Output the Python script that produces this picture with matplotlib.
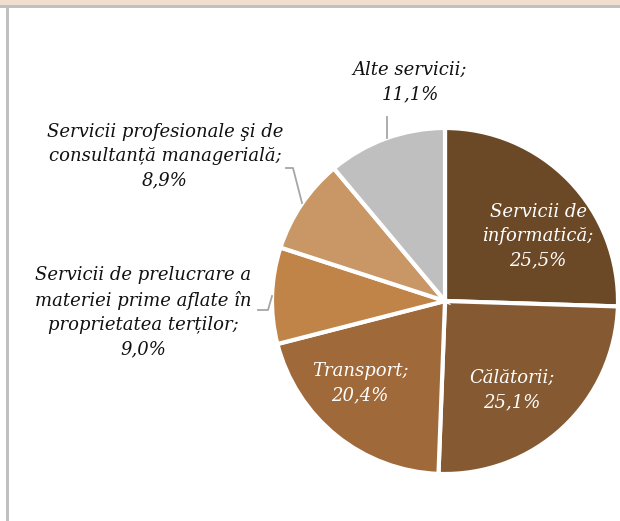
import matplotlib
matplotlib.use("Agg")
import matplotlib.pyplot as plt
from matplotlib.patches import Rectangle

categories = ["Servicii de\ninformatică", "Călătorii", "Transport",
              "Servicii de prelucrare a\nmateriei prime aflate în\nproprietatea terților",
              "Servicii profesionale şi de\nconsultanță managerială", "Alte servicii"]
values = [25.5, 25.1, 20.4, 9.0, 8.9, 11.1]
value_labels = ["25,5%", "25,1%", "20,4%", "9,0%", "8,9%", "11,1%"]
colors = ["#6B4826", "#855A32", "#A0693A", "#C08348", "#C99665", "#BFBFBF"]

W, H = 620, 521
fig = plt.figure(figsize=(W / 100, H / 100), dpi=100)
ax = fig.add_axes([0, 0, 1, 1])

def Y(y):
    return H - y

cx, cy, r = 445, Y(301), 173
wedges, _ = ax.pie(values, colors=colors, startangle=90, counterclock=False,
                   center=(cx, cy), radius=r, frame=True,
                   wedgeprops=dict(edgecolor="white", linewidth=3))
ax.set_xlim(0, W)
ax.set_ylim(0, H)
ax.set_aspect("equal")
ax.axis("off")

# frame pieces
ax.add_patch(Rectangle((0, Y(5)), W, 5, facecolor="#F0DFCF", edgecolor="none"))
ax.add_patch(Rectangle((0, Y(7.5)), W, 2.5, facecolor="#C0C0C0", edgecolor="none"))
ax.add_patch(Rectangle((5.5, 0), 3, Y(7.5), facecolor="#C0C0C0", edgecolor="none"))

font = dict(family="DejaVu Serif", style="italic", fontsize=13, linespacing=1.45,
            ha="center", va="center")

# inside labels
inside_pos = {0: (538, 236), 1: (512, 390), 2: (360, 383)}
for i, (x, y) in inside_pos.items():
    ax.text(x, Y(y), categories[i] + ";\n" + value_labels[i], color="white", **font)

# outside labels
outside_pos = {5: (410, 82), 4: (165, 156), 3: (143, 312)}
for i, (x, y) in outside_pos.items():
    ax.text(x, Y(y), categories[i] + ";\n" + value_labels[i], color="#111111", **font)

lc = "#A6A6A6"
ax.plot([387, 387], [Y(117), Y(138)], color=lc, lw=1.3)
ax.plot([286, 293, 302], [Y(168), Y(168), Y(203)], color=lc, lw=1.3)
ax.plot([258, 268, 272], [Y(310), Y(310), Y(296)], color=lc, lw=1.3)

fig.savefig("out.png", dpi=100)
